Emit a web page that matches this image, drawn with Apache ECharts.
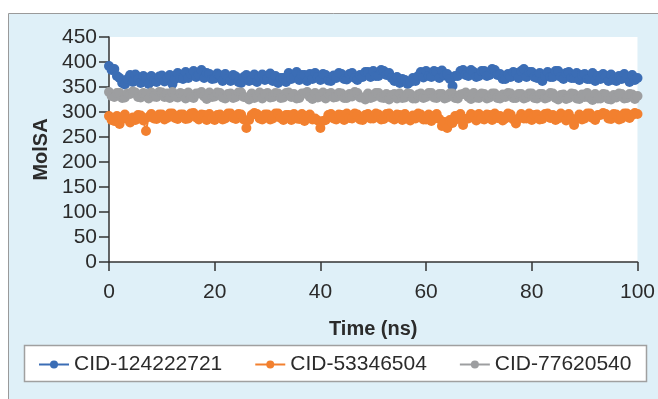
<!DOCTYPE html>
<html>
<head>
<meta charset="utf-8">
<script src="https://cdn.jsdelivr.net/npm/echarts@6/dist/echarts.min.js"></script>
<style>
  html, body { margin: 0; padding: 0; background: #fff; }
  #chart { width: 658px; height: 399px; }
</style>
</head>
<body>
<div id="chart"></div>
<script>
// time in ns, 0.5 ns step
const timeNs = [];
for (let i = 0; i <= 200; i++) timeNs.push(i / 2);

// MolSA values, two per ns (t, t+0.5)
const cid124222721 = [
  392, 384, 386, 372, 368, 358, 355, 366, 374, 360,
  375, 366, 358, 372, 368, 356, 372, 362, 360, 371,
  373, 361, 368, 374, 356, 366, 378, 368, 366, 380,
  368, 376, 382, 370, 374, 384, 368, 378, 376, 366,
  367, 377, 373, 362, 376, 366, 362, 374, 371, 360,
  358, 370, 374, 362, 364, 375, 360, 370, 375, 364,
  366, 377, 362, 372, 358, 368, 368, 360, 378, 366,
  370, 380, 364, 374, 374, 362, 376, 366, 378, 370,
  364, 376, 374, 363, 362, 373, 368, 378, 376, 366,
  365, 376, 378, 368, 364, 374, 370, 380, 380, 370,
  382, 372, 372, 384, 382, 374, 378, 368, 362, 370,
  358, 366, 364, 356, 360, 368, 362, 372, 380, 369,
  382, 372, 370, 382, 380, 368, 383, 373, 376, 366,
  352, 372, 372, 382, 384, 374, 372, 384, 380, 370,
  372, 382, 382, 372, 374, 386, 384, 374, 376, 366,
  366, 376, 370, 380, 378, 368, 382, 386, 370, 380,
  380, 370, 368, 378, 362, 372, 380, 370, 370, 382,
  382, 370, 366, 378, 380, 368, 368, 378, 364, 374,
  376, 366, 366, 378, 362, 372, 366, 376, 372, 362,
  375, 364, 362, 372, 366, 376, 370, 360, 374, 364,
  368
];

const cid53346504 = [
  292, 284, 282, 292, 276, 286, 295, 286, 279, 289,
  284, 294, 293, 283, 262, 290, 296, 287, 286, 295,
  295, 285, 288, 297, 297, 288, 286, 295, 295, 286,
  287, 297, 298, 289, 285, 295, 294, 284, 296, 287,
  284, 294, 295, 285, 287, 297, 297, 288, 286, 296,
  295, 285, 268, 284, 294, 298, 296, 287, 285, 295,
  295, 285, 287, 297, 297, 288, 284, 294, 294, 284,
  296, 287, 286, 296, 282, 292, 295, 285, 287, 283,
  268, 282, 284, 294, 296, 287, 285, 295, 294, 284,
  297, 288, 287, 297, 295, 285, 284, 294, 296, 287,
  287, 297, 295, 285, 286, 296, 297, 288, 285, 295,
  294, 284, 296, 287, 283, 293, 287, 297, 295, 285,
  285, 295, 282, 292, 296, 286, 272, 280, 268, 284,
  278, 292, 286, 296, 274, 286, 287, 296, 293, 283,
  296, 287, 285, 295, 294, 284, 297, 288, 292, 283,
  287, 297, 295, 285, 277, 287, 296, 287, 287, 297,
  284, 294, 295, 285, 286, 296, 297, 288, 294, 284,
  287, 297, 293, 283, 296, 287, 274, 286, 295, 285,
  287, 297, 297, 288, 284, 294, 294, 298, 296, 287,
  286, 296, 295, 285, 287, 297, 297, 288, 294, 298,
  296
];

const cid77620540 = [
  340, 332, 330, 338, 338, 328, 329, 337, 336, 341,
  339, 330, 329, 338, 336, 327, 339, 331, 330, 340,
  339, 330, 337, 328, 340, 331, 329, 338, 336, 327,
  339, 330, 328, 337, 337, 340, 331, 326, 339, 330,
  331, 339, 338, 329, 327, 336, 337, 328, 330, 339,
  339, 330, 329, 325, 337, 328, 331, 339, 327, 336,
  338, 329, 330, 338, 337, 328, 329, 338, 339, 330,
  336, 327, 328, 337, 337, 340, 330, 326, 338, 329,
  331, 339, 327, 336, 338, 329, 330, 338, 337, 328,
  328, 336, 331, 340, 338, 329, 329, 325, 337, 328,
  330, 338, 338, 329, 328, 336, 325, 334, 336, 327,
  337, 328, 329, 337, 336, 327, 327, 335, 337, 328,
  330, 338, 338, 329, 328, 336, 336, 327, 329, 337,
  337, 328, 327, 335, 336, 339, 330, 326, 338, 329,
  328, 337, 336, 327, 329, 337, 337, 328, 327, 335,
  330, 338, 337, 328, 328, 336, 336, 327, 329, 337,
  337, 328, 327, 336, 336, 327, 329, 338, 337, 328,
  325, 334, 335, 326, 328, 337, 336, 327, 326, 335,
  330, 338, 328, 324, 336, 327, 327, 336, 335, 326,
  325, 334, 329, 337, 336, 327, 328, 336, 335, 326,
  332
];

const seriesNames = ['CID-124222721', 'CID-53346504', 'CID-77620540'];
const seriesValues = [cid124222721, cid53346504, cid77620540];
const seriesColors = ['#3b6db5', '#f2802f', '#9d9ea0'];

const textColor = '#2b2b2b';
const fontFamily = 'Liberation Sans, Arial, sans-serif';

const myChart = echarts.init(document.getElementById('chart'));

myChart.setOption({
  animation: false,
  backgroundColor: '#ffffff',
  textStyle: { fontFamily: fontFamily },
  graphic: [
    {
      type: 'rect', z: -10, silent: true,
      shape: { x: 8.5, y: 13.5, width: 700, height: 420 },
      style: { fill: '#dff0f8', stroke: '#9a9a9a', lineWidth: 1 }
    },
    {
      type: 'rect', z: -9, silent: true,
      shape: { x: 24.5, y: 345.5, width: 622, height: 36 },
      style: { fill: '#ffffff', stroke: '#a0a0a0', lineWidth: 1.5 }
    }
  ],
  grid: {
    left: 109, top: 37, right: 19, bottom: 137,
    show: true, backgroundColor: '#ffffff', borderWidth: 0
  },
  legend: {
    left: 33, top: 349,
    itemWidth: 30, itemHeight: 10, itemGap: 32,
    textStyle: { fontSize: 21, color: textColor, fontFamily: fontFamily },
    data: seriesNames
  },
  xAxis: {
    type: 'value', min: 0, max: 100, interval: 20,
    name: 'Time (ns)', nameLocation: 'middle', nameGap: 57,
    nameTextStyle: { fontSize: 20, fontWeight: 'bold', color: textColor },
    axisLine: { lineStyle: { color: '#333', width: 1.5 } },
    axisTick: { show: true, length: 9, lineStyle: { color: '#333', width: 1.5 } },
    axisLabel: { fontSize: 21, color: textColor, margin: 20 },
    splitLine: { show: false }
  },
  yAxis: {
    type: 'value', min: 0, max: 450, interval: 50,
    name: 'MolSA', nameLocation: 'middle', nameGap: 56, nameRotate: 90,
    nameTextStyle: { fontSize: 20, fontWeight: 'bold', color: textColor },
    axisLine: { show: true, lineStyle: { color: '#333', width: 1.5 } },
    axisTick: { show: true, length: 10, lineStyle: { color: '#333', width: 1.5 } },
    axisLabel: { fontSize: 21, color: textColor, margin: 12 },
    splitLine: { show: false }
  },
  series: seriesNames.map((name, i) => ({
    name: name,
    type: 'line',
    data: timeNs.map((t, j) => [t, seriesValues[i][j]]),
    symbol: 'circle',
    symbolSize: 10,
    showSymbol: true,
    showAllSymbol: true,
    itemStyle: { color: seriesColors[i] },
    lineStyle: { color: seriesColors[i], width: 2 },
    emphasis: { disabled: true }
  }))
});
</script>
</body>
</html>
